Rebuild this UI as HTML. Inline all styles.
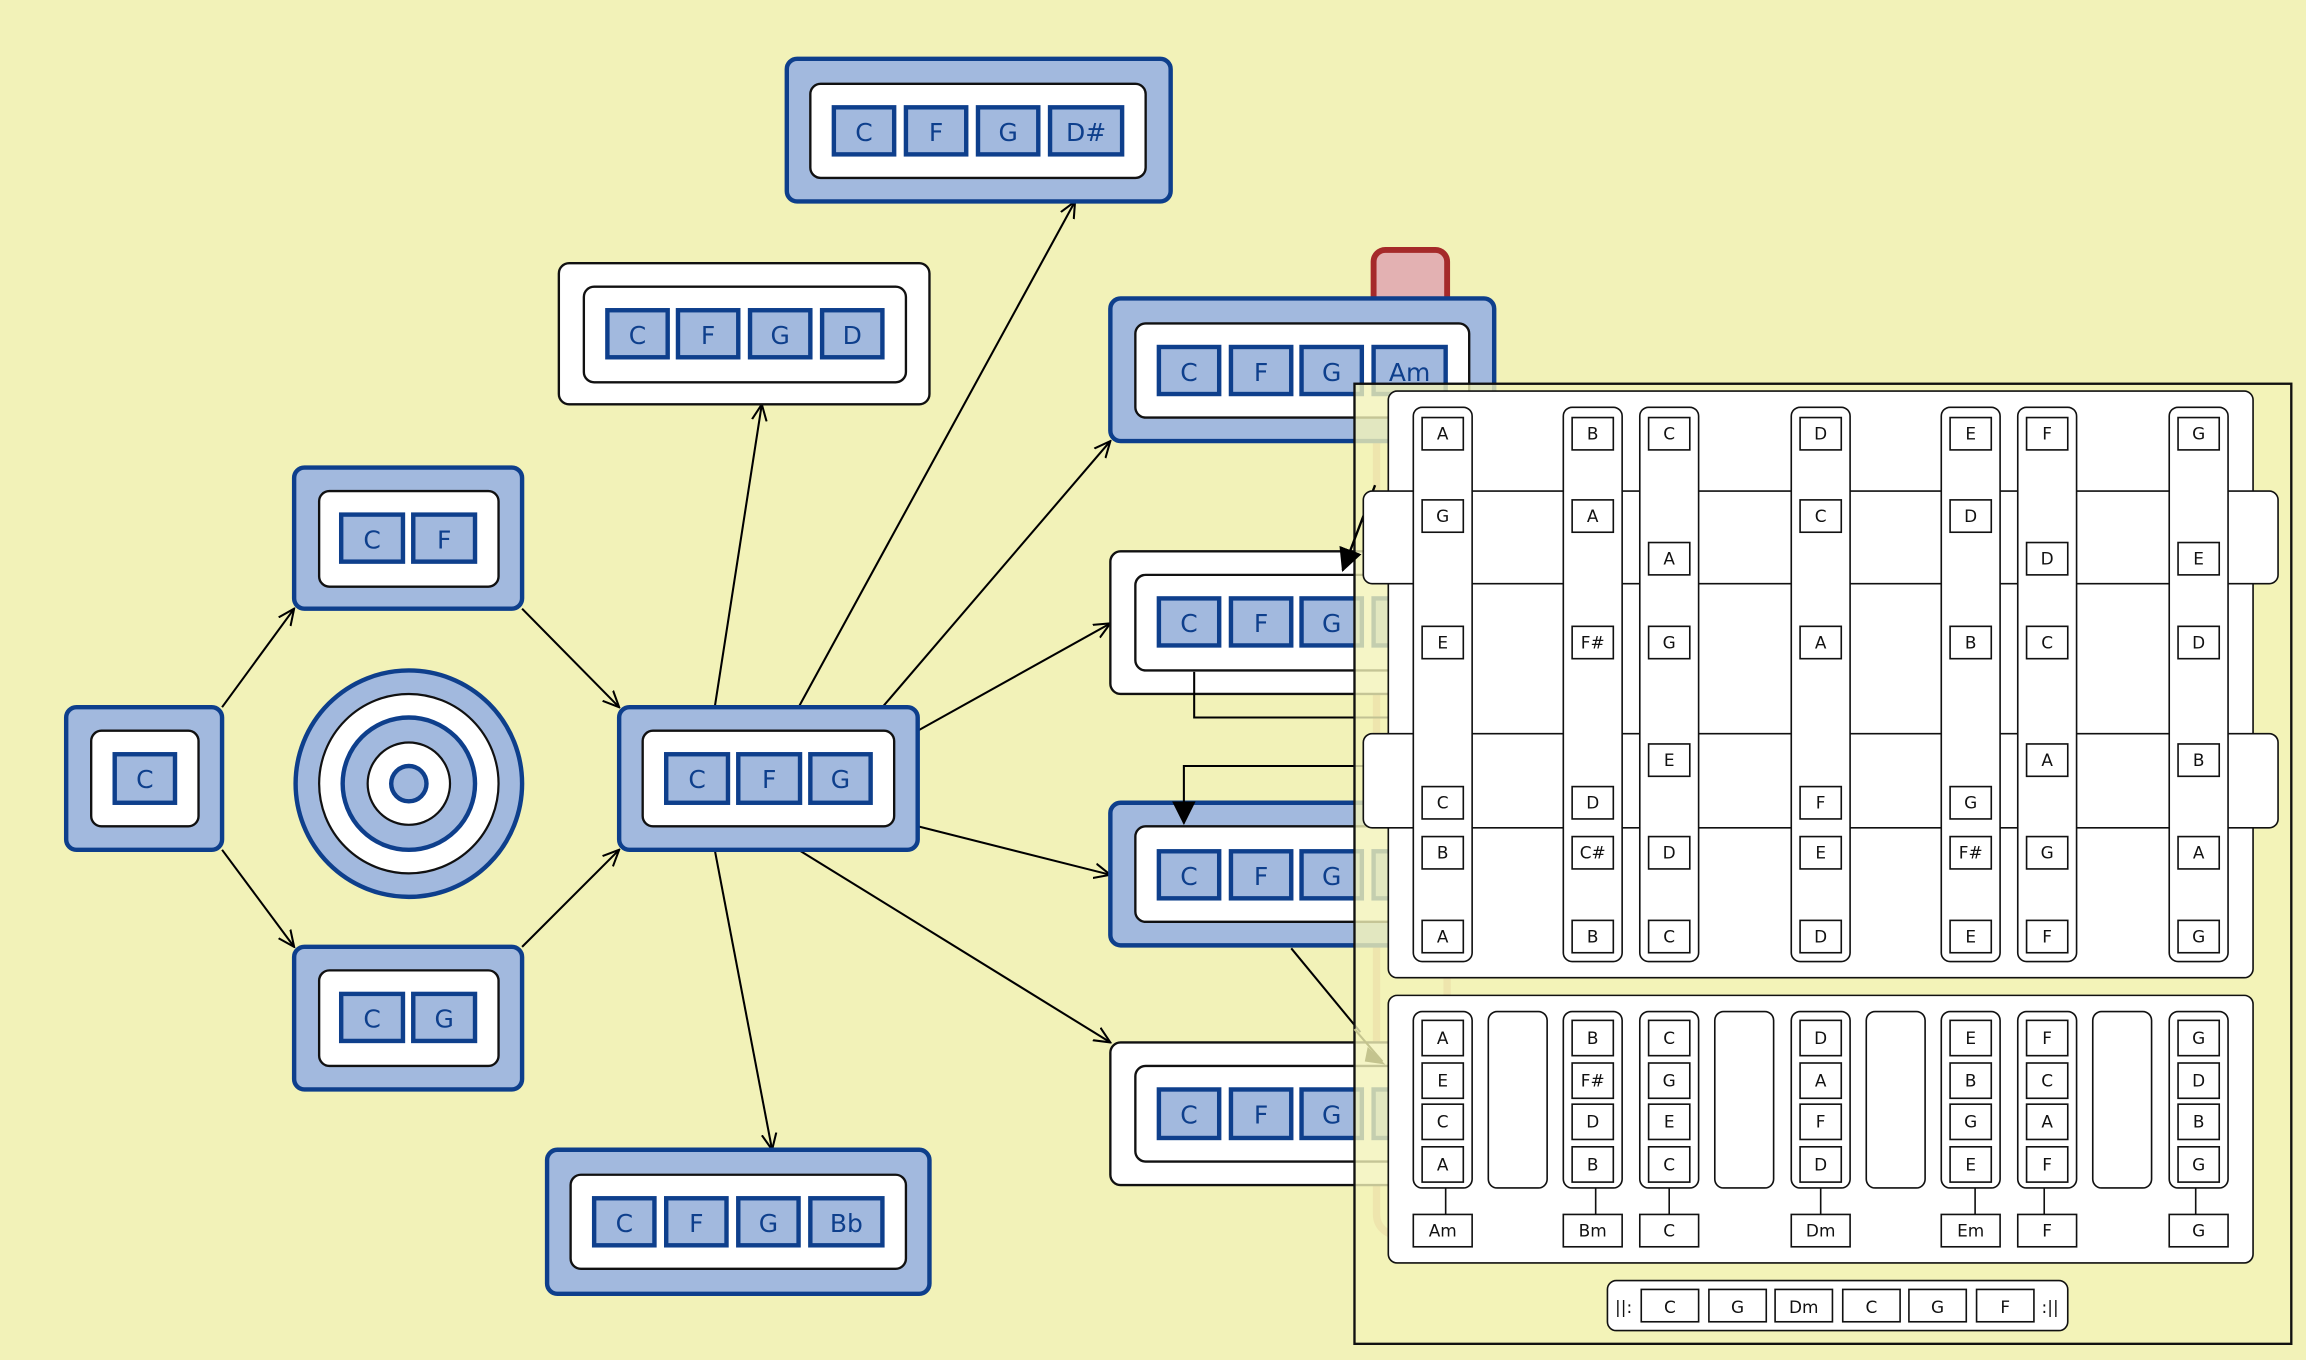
<!DOCTYPE html>
<html><head><meta charset="utf-8"><style>
html,body{margin:0;padding:0;background:#f2f2b8;}
svg{display:block;}
text{font-family:"DejaVu Sans","Liberation Sans",sans-serif;}
.ob{fill:#a2b9de;stroke:#0e3f8c;stroke-width:3;}
.ow{fill:#fff;stroke:#111;stroke-width:1.6;}
.in{fill:#fff;stroke:#111;stroke-width:1.6;}
.cb{fill:#a2b9de;stroke:#0e3f8c;stroke-width:3;}
.ct{fill:#0e3f8c;font-size:17px;text-anchor:middle;}
.e{stroke:#000;stroke-width:1.4;fill:none;}
.pc{fill:#fff;stroke:#111;stroke-width:1.1;}
.nb{fill:#fff;stroke:#111;stroke-width:1.1;}
.nt{fill:#111;font-size:11.5px;text-anchor:middle;}
</style></head><body>
<svg width="2306" height="1360" viewBox="0 0 1568 925" preserveAspectRatio="none" xmlns="http://www.w3.org/2000/svg">
<defs>
<marker id="a" viewBox="0 0 12 12" refX="11" refY="6" markerWidth="12" markerHeight="12" markerUnits="userSpaceOnUse" orient="auto"><path d="M0,1 L11,6 L0,11" fill="none" stroke="#000" stroke-width="1.4"/></marker>
<marker id="f" viewBox="0 0 14 14" refX="13" refY="7" markerWidth="16" markerHeight="16" markerUnits="userSpaceOnUse" orient="auto"><path d="M0,0 L14,7 L0,14 Z" fill="#000"/></marker>
</defs>
<rect width="1568" height="925" fill="#f2f2b8"/>

<!-- edges -->
<line class="e" x1="151" y1="481" x2="200" y2="414" marker-end="url(#a)"/>
<line class="e" x1="151" y1="578" x2="200" y2="644" marker-end="url(#a)"/>
<line class="e" x1="355" y1="414" x2="421" y2="481" marker-end="url(#a)"/>
<line class="e" x1="355" y1="644" x2="421" y2="578" marker-end="url(#a)"/>
<line class="e" x1="486" y1="481" x2="518" y2="275" marker-end="url(#a)"/>
<line class="e" x1="543" y1="481" x2="731" y2="137" marker-end="url(#a)"/>
<line class="e" x1="600" y1="481" x2="755" y2="300" marker-end="url(#a)"/>
<line class="e" x1="624" y1="497" x2="755" y2="424" marker-end="url(#a)"/>
<line class="e" x1="624" y1="562" x2="755" y2="595" marker-end="url(#a)"/>
<line class="e" x1="543" y1="578" x2="755" y2="709" marker-end="url(#a)"/>
<line class="e" x1="486" y1="578" x2="525" y2="782" marker-end="url(#a)"/>

<!-- C -->
<rect class="ob" x="45" y="481" width="106" height="97" rx="7"/>
<rect class="in" x="62" y="497" width="73" height="65" rx="7"/>
<rect class="cb" x="78" y="513" width="41" height="33"/><text class="ct" x="98.5" y="536">C</text>
<!-- CF -->
<rect class="ob" x="200" y="318" width="155" height="96" rx="7"/>
<rect class="in" x="217" y="334" width="122" height="65" rx="7"/>
<rect class="cb" x="232" y="350" width="42" height="32"/><text class="ct" x="253" y="373">C</text>
<rect class="cb" x="281" y="350" width="42" height="32"/><text class="ct" x="302" y="373">F</text>
<!-- CG -->
<rect class="ob" x="200" y="644" width="155" height="97" rx="7"/>
<rect class="in" x="217" y="660" width="122" height="65" rx="7"/>
<rect class="cb" x="232" y="676" width="42" height="32"/><text class="ct" x="253" y="699">C</text>
<rect class="cb" x="281" y="676" width="42" height="32"/><text class="ct" x="302" y="699">G</text>
<!-- target -->
<circle cx="278" cy="533" r="77" class="ob"/>
<circle cx="278" cy="533" r="61" fill="#fff" stroke="#111" stroke-width="1.5"/>
<circle cx="278" cy="533" r="45" class="ob"/>
<circle cx="278" cy="533" r="28" fill="#fff" stroke="#111" stroke-width="1.5"/>
<circle cx="278" cy="533" r="12" class="ob"/>
<!-- CFG center -->
<rect class="ob" x="421" y="481" width="203" height="97" rx="7"/>
<rect class="in" x="437" y="497" width="171" height="65" rx="7"/>
<rect class="cb" x="453" y="513" width="42" height="33"/><text class="ct" x="474" y="536">C</text>
<rect class="cb" x="502" y="513" width="42" height="33"/><text class="ct" x="523" y="536">F</text>
<rect class="cb" x="551" y="513" width="41" height="33"/><text class="ct" x="571.5" y="536">G</text>
<!-- CFGD -->
<rect class="ow" x="380" y="179" width="252" height="96" rx="7"/>
<rect class="in" x="397" y="195" width="219" height="65" rx="7"/>
<rect class="cb" x="413" y="211" width="41" height="32"/><text class="ct" x="433.5" y="234">C</text>
<rect class="cb" x="461" y="211" width="41" height="32"/><text class="ct" x="481.5" y="234">F</text>
<rect class="cb" x="510" y="211" width="41" height="32"/><text class="ct" x="530.5" y="234">G</text>
<rect class="cb" x="559" y="211" width="41" height="32"/><text class="ct" x="579.5" y="234">D</text>
<!-- CFGD# -->
<rect class="ob" x="535" y="40" width="261" height="97" rx="7"/>
<rect class="in" x="551" y="57" width="228" height="64" rx="7"/>
<rect class="cb" x="567" y="73" width="41" height="32"/><text class="ct" x="587.5" y="96">C</text>
<rect class="cb" x="616" y="73" width="41" height="32"/><text class="ct" x="636.5" y="96">F</text>
<rect class="cb" x="665" y="73" width="41" height="32"/><text class="ct" x="685.5" y="96">G</text>
<rect class="cb" x="714" y="73" width="49" height="32"/><text class="ct" x="738.5" y="96">D#</text>
<!-- CFGBb -->
<rect class="ob" x="372" y="782" width="260" height="98" rx="7"/>
<rect class="in" x="388" y="799" width="228" height="64" rx="7"/>
<rect class="cb" x="404" y="815" width="41" height="32"/><text class="ct" x="424.5" y="838">C</text>
<rect class="cb" x="453" y="815" width="41" height="32"/><text class="ct" x="473.5" y="838">F</text>
<rect class="cb" x="502" y="815" width="41" height="32"/><text class="ct" x="522.5" y="838">G</text>
<rect class="cb" x="551" y="815" width="49" height="32"/><text class="ct" x="575.5" y="838">Bb</text>

<!-- orange loop (under panel) -->
<rect x="936" y="200" width="48" height="640" rx="14" fill="none" stroke="#dcae80" stroke-width="5"/>
<!-- red tab -->
<rect x="934" y="170" width="50" height="40" rx="8" fill="#e3b1b2" stroke="#a52a2a" stroke-width="4"/>

<!-- CFGAm -->
<rect class="ob" x="755" y="203" width="261" height="97" rx="7"/>
<rect class="in" x="772" y="220" width="227" height="64" rx="7"/>
<rect class="cb" x="788" y="236" width="41" height="32"/><text class="ct" x="808.5" y="259">C</text>
<rect class="cb" x="837" y="236" width="41" height="32"/><text class="ct" x="857.5" y="259">F</text>
<rect class="cb" x="885" y="236" width="41" height="32"/><text class="ct" x="905.5" y="259">G</text>
<rect class="cb" x="934" y="236" width="49" height="32"/><text class="ct" x="958.5" y="259">Am</text>
<!-- white node 2 -->
<rect class="ow" x="755" y="375" width="261" height="97" rx="7"/>
<rect class="in" x="772" y="391" width="227" height="65" rx="7"/>
<rect class="cb" x="788" y="407" width="41" height="32"/><text class="ct" x="808.5" y="430">C</text>
<rect class="cb" x="837" y="407" width="41" height="32"/><text class="ct" x="857.5" y="430">F</text>
<rect class="cb" x="885" y="407" width="41" height="32"/><text class="ct" x="905.5" y="430">G</text>
<rect class="cb" x="934" y="407" width="41" height="32"/>
<!-- blue node 3 -->
<rect class="ob" x="755" y="546" width="261" height="97" rx="7"/>
<rect class="in" x="772" y="562" width="227" height="65" rx="7"/>
<rect class="cb" x="788" y="579" width="41" height="32"/><text class="ct" x="808.5" y="602">C</text>
<rect class="cb" x="837" y="579" width="41" height="32"/><text class="ct" x="857.5" y="602">F</text>
<rect class="cb" x="885" y="579" width="41" height="32"/><text class="ct" x="905.5" y="602">G</text>
<rect class="cb" x="934" y="579" width="41" height="32"/>
<!-- white node 4 -->
<rect class="ow" x="755" y="709" width="261" height="97" rx="7"/>
<rect class="in" x="772" y="725" width="227" height="65" rx="7"/>
<rect class="cb" x="788" y="741" width="41" height="33"/><text class="ct" x="808.5" y="764">C</text>
<rect class="cb" x="837" y="741" width="41" height="33"/><text class="ct" x="857.5" y="764">F</text>
<rect class="cb" x="885" y="741" width="41" height="33"/><text class="ct" x="905.5" y="764">G</text>
<rect class="cb" x="934" y="741" width="41" height="33"/>

<!-- elbow edges -->
<path class="e" d="M812,457 L812,488 L945,488" stroke-width="1.6"/>
<path class="e" d="M945,521 L805,521 L805,560" stroke-width="1.6" marker-end="url(#f)"/>
<line class="e" x1="878" y1="645" x2="925" y2="702"/>

<!-- panel -->
<rect x="921" y="261" width="637" height="653" fill="#f2f2b8" fill-opacity="0.8" stroke="#111" stroke-width="1.6"/>
<line x1="921" y1="700" x2="940" y2="722" stroke="#c4c48e" stroke-width="1.4"/>
<path d="M930,712 L942,724 L928,722 Z" fill="#c4c48e"/>
<line x1="935" y1="330" x2="913" y2="388" stroke="#000" stroke-width="1.6" marker-end="url(#f)"/>

<!-- top card -->
<rect class="pc" x="944" y="266" width="588" height="399" rx="6"/>
<rect class="pc" x="927" y="334" width="622" height="63" rx="6"/>
<rect class="pc" x="927" y="499" width="622" height="64" rx="6"/>
<g>
<rect class="pc" x="961" y="277" width="40" height="377" rx="6"/>
<rect class="pc" x="1063" y="277" width="40" height="377" rx="6"/>
<rect class="pc" x="1115" y="277" width="40" height="377" rx="6"/>
<rect class="pc" x="1218" y="277" width="40" height="377" rx="6"/>
<rect class="pc" x="1320" y="277" width="40" height="377" rx="6"/>
<rect class="pc" x="1372" y="277" width="40" height="377" rx="6"/>
<rect class="pc" x="1475" y="277" width="40" height="377" rx="6"/>
</g>
<!-- col1 -->
<rect class="nb" x="967" y="284" width="28" height="22"/><text class="nt" x="981" y="299">A</text>
<rect class="nb" x="967" y="340" width="28" height="22"/><text class="nt" x="981" y="355">G</text>
<rect class="nb" x="967" y="426" width="28" height="22"/><text class="nt" x="981" y="441">E</text>
<rect class="nb" x="967" y="535" width="28" height="22"/><text class="nt" x="981" y="550">C</text>
<rect class="nb" x="967" y="569" width="28" height="22"/><text class="nt" x="981" y="584">B</text>
<rect class="nb" x="967" y="626" width="28" height="22"/><text class="nt" x="981" y="641">A</text>
<!-- col2 -->
<rect class="nb" x="1069" y="284" width="28" height="22"/><text class="nt" x="1083" y="299">B</text>
<rect class="nb" x="1069" y="340" width="28" height="22"/><text class="nt" x="1083" y="355">A</text>
<rect class="nb" x="1069" y="426" width="28" height="22"/><text class="nt" x="1083" y="441">F#</text>
<rect class="nb" x="1069" y="535" width="28" height="22"/><text class="nt" x="1083" y="550">D</text>
<rect class="nb" x="1069" y="569" width="28" height="22"/><text class="nt" x="1083" y="584">C#</text>
<rect class="nb" x="1069" y="626" width="28" height="22"/><text class="nt" x="1083" y="641">B</text>
<!-- col3 -->
<rect class="nb" x="1121" y="284" width="28" height="22"/><text class="nt" x="1135" y="299">C</text>
<rect class="nb" x="1121" y="369" width="28" height="22"/><text class="nt" x="1135" y="384">A</text>
<rect class="nb" x="1121" y="426" width="28" height="22"/><text class="nt" x="1135" y="441">G</text>
<rect class="nb" x="1121" y="506" width="28" height="22"/><text class="nt" x="1135" y="521">E</text>
<rect class="nb" x="1121" y="569" width="28" height="22"/><text class="nt" x="1135" y="584">D</text>
<rect class="nb" x="1121" y="626" width="28" height="22"/><text class="nt" x="1135" y="641">C</text>
<!-- col4 -->
<rect class="nb" x="1224" y="284" width="28" height="22"/><text class="nt" x="1238" y="299">D</text>
<rect class="nb" x="1224" y="340" width="28" height="22"/><text class="nt" x="1238" y="355">C</text>
<rect class="nb" x="1224" y="426" width="28" height="22"/><text class="nt" x="1238" y="441">A</text>
<rect class="nb" x="1224" y="535" width="28" height="22"/><text class="nt" x="1238" y="550">F</text>
<rect class="nb" x="1224" y="569" width="28" height="22"/><text class="nt" x="1238" y="584">E</text>
<rect class="nb" x="1224" y="626" width="28" height="22"/><text class="nt" x="1238" y="641">D</text>
<!-- col5 -->
<rect class="nb" x="1326" y="284" width="28" height="22"/><text class="nt" x="1340" y="299">E</text>
<rect class="nb" x="1326" y="340" width="28" height="22"/><text class="nt" x="1340" y="355">D</text>
<rect class="nb" x="1326" y="426" width="28" height="22"/><text class="nt" x="1340" y="441">B</text>
<rect class="nb" x="1326" y="535" width="28" height="22"/><text class="nt" x="1340" y="550">G</text>
<rect class="nb" x="1326" y="569" width="28" height="22"/><text class="nt" x="1340" y="584">F#</text>
<rect class="nb" x="1326" y="626" width="28" height="22"/><text class="nt" x="1340" y="641">E</text>
<!-- col6 -->
<rect class="nb" x="1378" y="284" width="28" height="22"/><text class="nt" x="1392" y="299">F</text>
<rect class="nb" x="1378" y="369" width="28" height="22"/><text class="nt" x="1392" y="384">D</text>
<rect class="nb" x="1378" y="426" width="28" height="22"/><text class="nt" x="1392" y="441">C</text>
<rect class="nb" x="1378" y="506" width="28" height="22"/><text class="nt" x="1392" y="521">A</text>
<rect class="nb" x="1378" y="569" width="28" height="22"/><text class="nt" x="1392" y="584">G</text>
<rect class="nb" x="1378" y="626" width="28" height="22"/><text class="nt" x="1392" y="641">F</text>
<!-- col7 -->
<rect class="nb" x="1481" y="284" width="28" height="22"/><text class="nt" x="1495" y="299">G</text>
<rect class="nb" x="1481" y="369" width="28" height="22"/><text class="nt" x="1495" y="384">E</text>
<rect class="nb" x="1481" y="426" width="28" height="22"/><text class="nt" x="1495" y="441">D</text>
<rect class="nb" x="1481" y="506" width="28" height="22"/><text class="nt" x="1495" y="521">B</text>
<rect class="nb" x="1481" y="569" width="28" height="22"/><text class="nt" x="1495" y="584">A</text>
<rect class="nb" x="1481" y="626" width="28" height="22"/><text class="nt" x="1495" y="641">G</text>

<!-- bottom card -->
<rect class="pc" x="944" y="677" width="588" height="182" rx="6"/>
<g>
<rect class="pc" x="961" y="688" width="40" height="120" rx="6"/>
<rect class="pc" x="1012" y="688" width="40" height="120" rx="6"/>
<rect class="pc" x="1063" y="688" width="40" height="120" rx="6"/>
<rect class="pc" x="1115" y="688" width="40" height="120" rx="6"/>
<rect class="pc" x="1166" y="688" width="40" height="120" rx="6"/>
<rect class="pc" x="1218" y="688" width="40" height="120" rx="6"/>
<rect class="pc" x="1269" y="688" width="40" height="120" rx="6"/>
<rect class="pc" x="1320" y="688" width="40" height="120" rx="6"/>
<rect class="pc" x="1372" y="688" width="40" height="120" rx="6"/>
<rect class="pc" x="1423" y="688" width="40" height="120" rx="6"/>
<rect class="pc" x="1475" y="688" width="40" height="120" rx="6"/>
</g>
<g stroke="#111" stroke-width="1.1">
<line x1="983" y1="808" x2="983" y2="826"/><line x1="1085" y1="808" x2="1085" y2="826"/><line x1="1135" y1="808" x2="1135" y2="826"/>
<line x1="1238" y1="808" x2="1238" y2="826"/><line x1="1343" y1="808" x2="1343" y2="826"/><line x1="1390" y1="808" x2="1390" y2="826"/><line x1="1493" y1="808" x2="1493" y2="826"/>
</g>
<!-- b col1 -->
<rect class="nb" x="967" y="694" width="28" height="24"/><text class="nt" x="981" y="710">A</text>
<rect class="nb" x="967" y="723" width="28" height="24"/><text class="nt" x="981" y="739">E</text>
<rect class="nb" x="967" y="751" width="28" height="24"/><text class="nt" x="981" y="767">C</text>
<rect class="nb" x="967" y="780" width="28" height="24"/><text class="nt" x="981" y="796">A</text>
<rect class="nb" x="961" y="826" width="40" height="22"/><text class="nt" x="981" y="841">Am</text>
<!-- b col2 -->
<rect class="nb" x="1069" y="694" width="28" height="24"/><text class="nt" x="1083" y="710">B</text>
<rect class="nb" x="1069" y="723" width="28" height="24"/><text class="nt" x="1083" y="739">F#</text>
<rect class="nb" x="1069" y="751" width="28" height="24"/><text class="nt" x="1083" y="767">D</text>
<rect class="nb" x="1069" y="780" width="28" height="24"/><text class="nt" x="1083" y="796">B</text>
<rect class="nb" x="1063" y="826" width="40" height="22"/><text class="nt" x="1083" y="841">Bm</text>
<!-- b col3 -->
<rect class="nb" x="1121" y="694" width="28" height="24"/><text class="nt" x="1135" y="710">C</text>
<rect class="nb" x="1121" y="723" width="28" height="24"/><text class="nt" x="1135" y="739">G</text>
<rect class="nb" x="1121" y="751" width="28" height="24"/><text class="nt" x="1135" y="767">E</text>
<rect class="nb" x="1121" y="780" width="28" height="24"/><text class="nt" x="1135" y="796">C</text>
<rect class="nb" x="1115" y="826" width="40" height="22"/><text class="nt" x="1135" y="841">C</text>
<!-- b col4 -->
<rect class="nb" x="1224" y="694" width="28" height="24"/><text class="nt" x="1238" y="710">D</text>
<rect class="nb" x="1224" y="723" width="28" height="24"/><text class="nt" x="1238" y="739">A</text>
<rect class="nb" x="1224" y="751" width="28" height="24"/><text class="nt" x="1238" y="767">F</text>
<rect class="nb" x="1224" y="780" width="28" height="24"/><text class="nt" x="1238" y="796">D</text>
<rect class="nb" x="1218" y="826" width="40" height="22"/><text class="nt" x="1238" y="841">Dm</text>
<!-- b col5 -->
<rect class="nb" x="1326" y="694" width="28" height="24"/><text class="nt" x="1340" y="710">E</text>
<rect class="nb" x="1326" y="723" width="28" height="24"/><text class="nt" x="1340" y="739">B</text>
<rect class="nb" x="1326" y="751" width="28" height="24"/><text class="nt" x="1340" y="767">G</text>
<rect class="nb" x="1326" y="780" width="28" height="24"/><text class="nt" x="1340" y="796">E</text>
<rect class="nb" x="1320" y="826" width="40" height="22"/><text class="nt" x="1340" y="841">Em</text>
<!-- b col6 -->
<rect class="nb" x="1378" y="694" width="28" height="24"/><text class="nt" x="1392" y="710">F</text>
<rect class="nb" x="1378" y="723" width="28" height="24"/><text class="nt" x="1392" y="739">C</text>
<rect class="nb" x="1378" y="751" width="28" height="24"/><text class="nt" x="1392" y="767">A</text>
<rect class="nb" x="1378" y="780" width="28" height="24"/><text class="nt" x="1392" y="796">F</text>
<rect class="nb" x="1372" y="826" width="40" height="22"/><text class="nt" x="1392" y="841">F</text>
<!-- b col7 -->
<rect class="nb" x="1481" y="694" width="28" height="24"/><text class="nt" x="1495" y="710">G</text>
<rect class="nb" x="1481" y="723" width="28" height="24"/><text class="nt" x="1495" y="739">D</text>
<rect class="nb" x="1481" y="751" width="28" height="24"/><text class="nt" x="1495" y="767">B</text>
<rect class="nb" x="1481" y="780" width="28" height="24"/><text class="nt" x="1495" y="796">G</text>
<rect class="nb" x="1475" y="826" width="40" height="22"/><text class="nt" x="1495" y="841">G</text>

<!-- repeat bar -->
<rect class="pc" x="1093" y="871" width="313" height="34" rx="6"/>
<text class="nt" x="1104" y="893">||:</text>
<rect class="nb" x="1116" y="877" width="39" height="22"/><text class="nt" x="1135.5" y="893">C</text>
<rect class="nb" x="1162" y="877" width="39" height="22"/><text class="nt" x="1181.5" y="893">G</text>
<rect class="nb" x="1207" y="877" width="39" height="22"/><text class="nt" x="1226.5" y="893">Dm</text>
<rect class="nb" x="1253" y="877" width="39" height="22"/><text class="nt" x="1272.5" y="893">C</text>
<rect class="nb" x="1298" y="877" width="39" height="22"/><text class="nt" x="1317.5" y="893">G</text>
<rect class="nb" x="1344" y="877" width="39" height="22"/><text class="nt" x="1363.5" y="893">F</text>
<text class="nt" x="1394" y="893">:||</text>
</svg>
</body></html>
